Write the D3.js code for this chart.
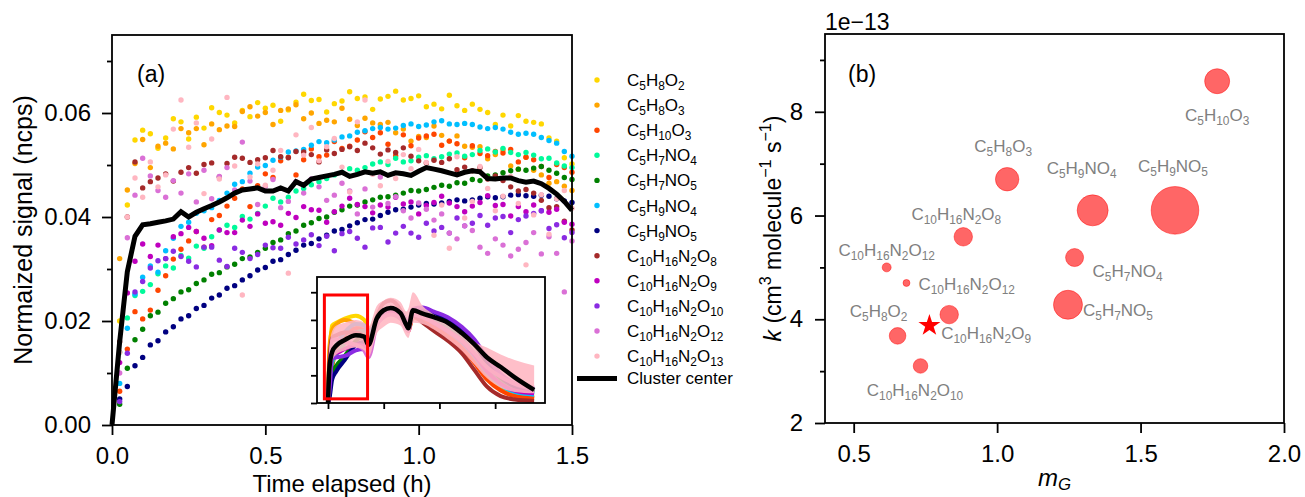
<!DOCTYPE html>
<html><head><meta charset="utf-8">
<script src="https://cdn.jsdelivr.net/npm/d3@7"></script>
<style>
body{margin:0;background:#fff}
svg text{font-family:"Liberation Sans",Arial,sans-serif}
</style>
</head><body>
<svg id="chart" width="1305" height="497"></svg>
<script>
// ---------------- DATA: panel (a) ----------------
// signal values below are in units of 1e-3 ncps
const SIGNAL_UNIT = 1e-3;
const timeHours = [0.025,0.05,0.075,0.1,0.125,0.15,0.175,0.2,0.225,0.25,0.275,0.3,0.325,0.35,0.375,0.4,0.425,0.45,0.475,0.5,0.525,0.55,0.575,0.6,0.625,0.65,0.675,0.7,0.725,0.75,0.775,0.8,0.825,0.85,0.875,0.9,0.925,0.95,0.975,1.0,1.025,1.05,1.075,1.1,1.125,1.15,1.175,1.2,1.225,1.25,1.275,1.3,1.325,1.35,1.375,1.4,1.425,1.45,1.475,1.5];
const seriesNames = ["C5H8O2","C5H8O3","C5H10O3","C5H7NO4","C5H7NO5","C5H9NO4","C5H9NO5","C10H16N2O8","C10H16N2O9","C10H16N2O10","C10H16N2O12","C10H16N2O13"];
const sC5H8O2 = [20.0,42.3,54.8,56.7,56.0,53.2,55.2,58.9,58.3,55.0,59.2,57.1,61.0,60.1,59.6,58.1,60.5,59.3,62.0,60.9,61.5,58.4,60.6,62.1,63.6,62.4,62.6,60.2,61.8,62.3,64.1,62.8,63.1,60.7,62.7,63.2,64.2,62.5,62.8,63.3,61.2,61.7,60.8,63.4,61.4,60.5,61.7,60.7,60.1,57.8,59.6,57.5,59.5,58.4,58.2,57.9,55.2,54.6,51.4,50.2];
const sC5H8O3 = [32.0,45.2,50.3,54.9,49.5,53.6,54.2,53.1,57.0,56.2,57.0,53.9,57.9,56.8,57.5,57.4,60.3,61.2,59.4,60.1,57.8,60.5,60.8,61.6,58.9,60.0,58.0,58.6,58.3,60.9,58.8,57.6,59.0,58.1,57.8,58.2,56.2,56.9,54.6,55.5,55.3,57.5,55.7,54.6,55.6,53.6,53.4,53.5,51.2,52.0,52.9,49.8,49.2,51.5,49.0,48.1,46.5,46.8,45.9,45.1];
const sC5H10O3 = [6.5,14.6,21.8,20.4,22.1,25.9,28.7,31.9,33.8,35.4,37.2,34.2,39.5,40.3,42.1,43.6,45.4,42.0,46.0,48.3,47.6,50.8,51.5,48.1,51.0,53.1,51.6,51.9,54.5,53.2,53.6,54.8,56.4,55.3,56.2,54.0,51.8,55.8,53.7,55.2,55.6,55.9,53.8,54.6,54.1,51.4,53.7,52.2,51.8,52.6,52.3,53.0,50.6,51.5,51.0,49.7,47.6,50.1,49.5,48.6];
const sC5H7NO4 = [14.0,20.6,24.9,25.7,27.0,29.1,30.6,30.2,32.6,32.1,34.4,34.0,36.2,37.5,38.4,38.0,40.1,39.6,40.7,42.1,43.6,42.9,43.8,45.0,45.5,46.2,46.8,47.4,48.1,48.6,49.3,49.0,49.5,50.2,50.6,50.1,51.3,50.6,50.8,51.5,51.8,51.2,51.6,52.1,52.3,51.7,52.0,52.8,53.1,52.5,53.2,52.4,52.0,52.4,51.9,51.2,51.3,50.4,49.8,49.5];
const sC5H7NO5 = [4.0,10.9,16.4,18.4,21.0,21.7,23.4,24.3,25.6,26.0,27.2,27.9,29.0,29.3,30.4,30.9,32.0,32.3,33.2,34.0,35.1,35.6,36.8,37.3,38.4,38.9,39.7,40.0,40.9,41.4,42.1,42.3,42.9,43.3,43.8,43.9,44.2,44.6,45.1,45.0,45.3,45.7,46.1,45.9,46.6,46.5,47.2,47.0,47.9,48.1,48.5,48.9,49.2,49.0,49.4,49.7,49.0,48.4,47.6,47.2];
const sC5H9NO4 = [8.0,18.6,25.2,28.4,30.6,29.4,33.5,35.9,38.2,39.0,40.7,41.2,41.8,43.2,44.6,46.3,46.8,48.4,49.6,49.9,50.9,51.5,52.5,52.7,53.0,53.8,54.5,54.3,54.8,55.4,55.6,56.3,56.6,57.0,57.2,56.9,57.1,57.6,57.9,57.4,57.7,58.3,58.5,57.9,57.8,58.0,57.8,57.3,57.0,57.2,56.9,56.3,55.9,56.1,55.9,55.3,54.7,54.2,52.6,51.7];
const sC5H9NO5 = [5.0,7.4,11.4,13.0,15.4,16.2,17.9,18.9,20.4,21.0,22.4,23.0,24.4,25.0,26.3,26.8,27.9,28.7,29.8,30.3,31.5,31.8,32.8,33.6,34.6,34.9,35.8,36.5,37.3,37.6,38.3,38.9,39.5,39.6,40.3,40.9,41.4,41.5,41.9,42.3,42.6,42.5,42.7,43.0,43.3,43.1,43.3,43.6,43.9,43.7,43.9,44.2,44.3,44.1,44.0,44.2,44.0,43.5,43.1,42.8];
const sC10H16N2O8 = [16.0,40.0,50.6,45.6,46.8,47.5,48.3,46.9,48.6,49.5,48.4,50.1,50.4,47.7,50.3,51.5,51.3,50.5,51.0,51.4,52.8,51.6,51.4,52.6,52.5,52.0,50.6,52.9,52.2,53.0,53.5,52.8,54.2,53.3,52.1,52.9,52.4,53.3,51.7,50.8,50.4,50.9,50.5,51.2,49.1,49.6,48.9,49.5,47.3,47.9,47.0,45.8,45.0,45.3,44.6,43.2,41.8,42.0,39.2,37.5];
const sC10H16N2O9 = [12.0,25.4,31.5,34.8,32.4,34.6,32.0,36.2,36.8,38.0,37.2,35.9,34.5,37.5,37.0,37.0,39.4,38.2,40.6,38.8,39.1,38.4,40.7,39.9,42.0,41.4,41.3,39.0,41.0,42.1,43.6,42.4,42.0,40.8,42.3,41.9,43.8,42.5,42.9,40.6,42.2,42.8,44.0,42.7,42.0,41.0,42.1,42.8,44.1,42.2,42.4,40.2,42.0,41.0,42.3,41.2,40.9,41.5,39.0,38.6];
const sC10H16N2O10 = [4.5,13.8,25.6,27.6,30.2,31.6,32.0,33.4,32.4,31.5,30.4,34.2,34.2,31.7,30.5,34.0,33.2,32.0,32.8,34.6,34.1,34.0,36.1,34.8,35.6,36.6,34.5,36.3,33.5,36.8,37.2,35.9,34.2,37.9,38.0,35.2,36.9,38.2,36.9,36.1,38.8,37.3,38.0,36.9,39.8,38.3,38.8,40.3,38.4,39.8,40.1,37.0,39.5,40.2,40.7,41.2,37.8,38.5,36.0,37.0];
const sC10H16N2O12 = [10.0,36.0,44.2,51.3,47.9,45.1,43.8,47.0,44.6,48.3,42.9,49.0,43.5,47.8,49.5,45.2,54.4,46.9,42.4,45.9,47.2,41.8,43.0,46.8,44.6,47.3,45.8,43.2,44.2,46.5,45.0,40.6,45.4,41.9,47.7,42.6,43.9,41.2,39.8,42.7,41.5,39.4,40.6,36.9,35.8,38.3,37.4,34.2,33.0,35.8,34.6,32.5,33.8,35.1,37.0,32.9,36.2,33.0,25.6,35.4];
const sC10H16N2O13 = [14.0,40.0,47.5,43.8,50.6,45.8,48.1,56.9,62.5,53.4,58.1,44.5,55.0,47.3,63.0,49.8,25.0,47.7,50.2,46.1,49.0,52.8,29.2,55.8,51.9,57.2,50.8,53.5,55.1,49.6,44.8,58.3,62.5,48.2,46.0,50.7,47.4,52.0,49.3,53.0,50.5,36.5,42.3,34.0,51.6,39.8,43.0,49.7,45.5,41.2,44.0,47.8,42.6,30.8,40.4,44.3,36.7,43.5,45.1,41.7];
const centerHours = [0].concat(timeHours);
const clusterCenter = [0,16,29.5,36.3,38.5,38.7,39,39.25,39.6,41.0,40,40.9,41.6,42.2,42.9,43.7,44.6,45.2,45.4,45.6,45,45.0,45.6,45.0,46.8,46.1,47.3,47.6,47.9,48.2,48.6,47.8,48.2,48.7,48.4,48.7,48.0,48.5,48.3,48.0,48.8,49.5,49.2,48.9,48.5,48.1,48.6,48.9,48.7,47.4,47.3,47.5,47.5,47.0,46.7,46.9,46.4,45.5,44.4,43.0,41.3];
const xTicksA = [0, 0.5, 1.0, 1.5];
const yTicksA = [0, 0.02, 0.04, 0.06];
const yMinorA = [0.01, 0.03, 0.05, 0.07];

// inset (whole experiment), same units
const insetHours = [0,0.05,0.15,0.3,0.6,1.0,1.3,1.45,1.75,2.0,2.25,2.6,2.82,2.88,3.05,3.4,3.8,4.3,4.8,5.25,5.7,6.2,6.7,7.4];
const inC5H8O2 = [0,30,56,58,61,63,60,52,60,64,65,62,54,53,62,59,55,49,41,31,20,11,6,4];
const inC5H8O3 = [0,40,53,57,60,57,52,46,60,65,66,62,55,53,63,60,56,50,41,30,18,10,6,4];
const inC5H10O3 = [0,8,26,38,49,54,52,48,58,64,65,61,54,52,62,59,55,48,40,29,17,9,5,3.5];
const inC5H7NO4 = [0,15,29,35,43,51,52,50,59,64,66,63,56,55,64,63,59,54,46,36,24,15,10,7];
const inC5H7NO5 = [0,6,22,27,34,45,48,47,58,64,67,65,58,57,66,66,63,59,52,42,29,18,12,8];
const inC5H9NO4 = [0,12,35,42,51,57,56,51,60,65,66,63,56,55,64,62,58,52,44,34,22,13,8,6];
const inC5H9NO5 = [0,3,17,23,31,42,44,42,58,64,67,66,59,58,67,67,64,60,53,43,30,19,12,9];
const inC10H16N2O8 = [0,30,47,49,51,51,47,38,62,72,74,67,56,55,63,58,52,45,36,24,12,5,2.5,1.5];
const inC10H16N2O9 = [0,15,35,36,39,42,41,39,58,64,66,63,56,55,64,62,58,52,45,35,23,14,9,7];
const inC10H16N2O10 = [0,8,32,33,34,38,39,37,58,65,68,66,59,58,68,69,66,62,55,46,33,21,14,10];
const inC10H16N2O12 = [0,20,45,46,44,42,38,33,56,62,64,61,53,52,64,62,58,52,45,36,26,19,14,11];
const inC10H16N2O13High = [0,40,52,56,58,60,58,55,70,74,76,73,66,68,80,70,64,59,52,44,40,35,31,27];
const inC10H16N2O13Low = [0,10,30,35,38,40,38,33,50,55,58,56,48,47,58,57,53,46,38,28,18,11,8,7];
const inCenter = [0,25,37,41.5,45.5,49,48,42,61,67,68.6,65,56,54,67,64.5,62,58,50.5,42.5,33,26,18.5,9.4];
const insetXTicks = [0, 2, 4, 6];
const insetYTicks = [0, 0.02, 0.04, 0.06, 0.08];
const zoomBoxHours = [-0.13, 1.42];
const zoomBoxSignal = [0.003, 0.078];

// ---------------- DATA: panel (b) ----------------
const bubbleNames = ["C5H10O3","C5H9NO5","C5H9NO4","C5H7NO4","C5H7NO5","C5H8O3","C10H16N2O8","C10H16N2O12","C10H16N2O12","C10H16N2O9","C5H8O2","C10H16N2O10"];
const bubbleMG = [1.767,1.62,1.333,1.27,1.247,1.035,0.882,0.615,0.684,0.833,0.653,0.733];
const bubbleK = [8.59,6.10,6.10,5.19,4.28,6.70,5.59,5.00,4.70,4.09,3.68,3.10]; // x 1e-13
const bubbleWeight = [156,566,240,81,210,137,85,20,12,85,69,53];
const starMG = 0.764, starK = 3.88;
const xTicksB = [0.5, 1.0, 1.5, 2.0];
const yTicksB = [2, 4, 6, 8];
const yMinorB = [3, 5, 7, 9];

// ---------------- STYLE ----------------
const seriesColors = ["#FFD700","#FFA500","#FF4500","#00FA9A","#008000","#00BFFF","#000080","#A52A2A","#BF00BF","#8A2BE2","#DA70D6","#FFB6C1"];
const labelPlace = [
  {a:"middle",dx:0,dy:40},{a:"middle",dx:-2,dy:-38},{a:"middle",dx:-11,dy:-36},
  {a:"start",dx:18,dy:19},{a:"start",dx:15,dy:11},{a:"middle",dx:-4,dy:-27},
  {a:"middle",dx:-7,dy:-17},{a:"middle",dx:0,dy:-11},{a:"start",dx:12,dy:7},
  {a:"start",dx:-8,dy:24},{a:"middle",dx:-19,dy:-19},{a:"middle",dx:-5.5,dy:30}
];
const MONO = "'DejaVu Sans', sans-serif";

const svg = d3.select("#chart");

function addFormula(t, str, shift) {
  const re = /([A-Z][a-z]?)(\d*)/g; let m; let down = false;
  while ((m = re.exec(str))) {
    t.append("tspan").attr("dy", down ? -shift : 0).text(m[1]);
    down = false;
    if (m[2]) { t.append("tspan").attr("dy", shift).attr("font-size", "0.7em").text(m[2]); down = true; }
  }
}
function styleAxis(g) {
  g.select(".domain").remove();
  g.selectAll(".tick line").attr("stroke", "#000").attr("stroke-width", 1.8);
  g.selectAll(".tick text").attr("font-size", 24).attr("fill", "#000")
    .attr("font-family", "'Liberation Sans', Arial, sans-serif");
}

// ---------------- PANEL (a) ----------------
const A = {l:112, r:572, t:35, b:425};
const xA = d3.scaleLinear().domain([0, 1.5]).range([A.l, A.r]);
const yA = d3.scaleLinear().domain([0, 0.075]).range([A.b, A.t]);

const seriesA = [sC5H8O2,sC5H8O3,sC5H10O3,sC5H7NO4,sC5H7NO5,sC5H9NO4,sC5H9NO5,sC10H16N2O8,sC10H16N2O9,sC10H16N2O10,sC10H16N2O12,sC10H16N2O13];
const gA = svg.append("g");
seriesA.forEach((vals, si) => {
  gA.append("g").selectAll("circle").data(vals).join("circle")
    .attr("cx", (d, i) => xA(timeHours[i]))
    .attr("cy", d => yA(d * SIGNAL_UNIT))
    .attr("r", 2.7).attr("fill", seriesColors[si]);
});
gA.append("path").datum(clusterCenter)
  .attr("fill", "none").attr("stroke", "#000").attr("stroke-width", 5).attr("stroke-linejoin", "miter")
  .attr("d", d3.line().x((d, i) => xA(centerHours[i])).y(d => yA(d * SIGNAL_UNIT)));

gA.append("g").attr("transform", `translate(0,${A.b})`)
  .call(d3.axisBottom(xA).tickValues(xTicksA).tickFormat(d3.format(".1f")).tickSize(10).tickPadding(12)).call(styleAxis);
gA.append("g").attr("transform", `translate(${A.l},0)`)
  .call(d3.axisLeft(yA).tickValues(yTicksA).tickFormat(d3.format(".2f")).tickSize(10).tickPadding(11)).call(styleAxis);
gA.append("g").attr("transform", `translate(${A.l},0)`)
  .call(d3.axisLeft(yA).tickValues(yMinorA).tickFormat("").tickSize(5)).call(styleAxis);
gA.append("rect").attr("x", A.l).attr("y", A.t).attr("width", A.r - A.l).attr("height", A.b - A.t)
  .attr("fill", "none").attr("stroke", "#000").attr("stroke-width", 1.8);

gA.append("text").attr("x", 137).attr("y", 82).attr("font-size", 23).text("(a)");
gA.append("text").attr("x", (A.l + A.r) / 2).attr("y", 492).attr("text-anchor", "middle").attr("font-size", 24).text("Time elapsed (h)");
gA.append("text").attr("transform", `translate(32,${(A.t + A.b) / 2}) rotate(-90)`).attr("text-anchor", "middle")
  .attr("font-size", 25).text("Normaized signal (ncps)");

// ---------------- INSET ----------------
const I = {l:317, r:545, t:277, b:403};
const xI = d3.scaleLinear().domain([-0.395, 7.79]).range([I.l, I.r]);
const yI = d3.scaleLinear().domain([0, 0.091]).range([I.b, I.t]);
const gI = svg.append("g");
gI.append("rect").attr("x", I.l).attr("y", I.t).attr("width", I.r - I.l).attr("height", I.b - I.t).attr("fill", "#fff");
const insetSeries = [inC5H8O2,inC5H8O3,inC5H10O3,inC5H7NO4,inC5H7NO5,inC5H9NO4,inC5H9NO5,inC10H16N2O8,inC10H16N2O9,inC10H16N2O10,inC10H16N2O12];
const lineI = d3.line().curve(d3.curveMonotoneX).x((d, i) => xI(insetHours[i])).y(d => yI(d * SIGNAL_UNIT));
insetSeries.forEach((vals, si) => {
  gI.append("path").datum(vals).attr("fill", "none").attr("stroke", seriesColors[si]).attr("stroke-width", 4).attr("d", lineI);
});
gI.append("path").datum(inC10H16N2O13High.map((h, i) => [h, inC10H16N2O13Low[i]]))
  .attr("fill", seriesColors[11]).attr("fill-opacity", 0.88)
  .attr("d", d3.area().curve(d3.curveMonotoneX).x((d, i) => xI(insetHours[i]))
    .y0(d => yI(d[1] * SIGNAL_UNIT)).y1(d => yI(d[0] * SIGNAL_UNIT)));
gI.append("path").datum(inCenter).attr("fill", "none").attr("stroke", "#000").attr("stroke-width", 4.5).attr("d", lineI);
gI.append("rect").attr("x", xI(zoomBoxHours[0])).attr("y", yI(zoomBoxSignal[1]))
  .attr("width", xI(zoomBoxHours[1]) - xI(zoomBoxHours[0])).attr("height", yI(zoomBoxSignal[0]) - yI(zoomBoxSignal[1]))
  .attr("fill", "none").attr("stroke", "#ff0000").attr("stroke-width", 3);
gI.append("g").attr("transform", `translate(0,${I.b})`).call(d3.axisBottom(xI).tickValues(insetXTicks).tickFormat("").tickSize(6)).call(styleAxis);
gI.append("g").attr("transform", `translate(${I.l},0)`).call(d3.axisLeft(yI).tickValues(insetYTicks).tickFormat("").tickSize(6)).call(styleAxis);
gI.append("rect").attr("x", I.l).attr("y", I.t).attr("width", I.r - I.l).attr("height", I.b - I.t)
  .attr("fill", "none").attr("stroke", "#000").attr("stroke-width", 1.8);

// ---------------- LEGEND ----------------
const gL = svg.append("g");
seriesNames.forEach((name, i) => {
  const y = 80 + i * 25.1;
  gL.append("circle").attr("cx", 597).attr("cy", y).attr("r", 2.7).attr("fill", seriesColors[i]);
  const t = gL.append("text").attr("x", 627).attr("y", y + 6).attr("font-size", 17).attr("font-family", MONO);
  addFormula(t, name, 4);
});
const yCl = 80 + 11 * 25.1 + 22.3;
gL.append("line").attr("x1", 577).attr("x2", 617).attr("y1", yCl).attr("y2", yCl).attr("stroke", "#000").attr("stroke-width", 5);
gL.append("text").attr("x", 627).attr("y", yCl + 6).attr("font-size", 17).text("Cluster center");

// ---------------- PANEL (b) ----------------
const B = {l:825, r:1284, t:34, b:423};
const xB = d3.scaleLinear().domain([0.4, 2.0]).range([B.l, B.r]);
const yB = d3.scaleLinear().domain([2, 9.5]).range([B.b, B.t]);
const rB = d3.scaleSqrt().domain([0, d3.max(bubbleWeight)]).range([0, 23.8]);
const gB = svg.append("g");
gB.append("g").selectAll("circle").data(bubbleWeight).join("circle")
  .attr("cx", (d, i) => xB(bubbleMG[i])).attr("cy", (d, i) => yB(bubbleK[i])).attr("r", d => rB(d))
  .attr("fill", "red").attr("fill-opacity", 0.6).attr("stroke", "red").attr("stroke-opacity", 0.45).attr("stroke-width", 1);
gB.append("path").attr("d", d3.symbol().type(d3.symbolStar).size(151)())
  .attr("transform", `translate(${xB(starMG)},${yB(starK)})`).attr("fill", "red");
bubbleNames.forEach((name, i) => {
  const p = labelPlace[i];
  const t = gB.append("text").attr("x", xB(bubbleMG[i]) + p.dx).attr("y", yB(bubbleK[i]) + p.dy)
    .attr("text-anchor", p.a).attr("font-size", 17).attr("font-family", MONO).attr("fill", "#808080");
  addFormula(t, name, 4);
});
gB.append("g").attr("transform", `translate(0,${B.b})`)
  .call(d3.axisBottom(xB).tickValues(xTicksB).tickFormat(d3.format(".1f")).tickSize(10).tickPadding(12)).call(styleAxis);
gB.append("g").attr("transform", `translate(${B.l},0)`)
  .call(d3.axisLeft(yB).tickValues(yTicksB).tickFormat(d3.format("d")).tickSize(10).tickPadding(12)).call(styleAxis);
gB.append("g").attr("transform", `translate(${B.l},0)`)
  .call(d3.axisLeft(yB).tickValues(yMinorB).tickFormat("").tickSize(5)).call(styleAxis);
gB.append("rect").attr("x", B.l).attr("y", B.t).attr("width", B.r - B.l).attr("height", B.b - B.t)
  .attr("fill", "none").attr("stroke", "#000").attr("stroke-width", 1.8);
gB.append("text").attr("x", 848).attr("y", 82).attr("font-size", 23).text("(b)");
gB.append("text").attr("x", 825).attr("y", 30).attr("font-size", 23).text("1e\u221213");
// y label
const yl = gB.append("text").attr("transform", `translate(781,${(B.t + B.b) / 2}) rotate(-90)`)
  .attr("text-anchor", "middle").attr("font-size", 23).attr("font-family", MONO);
yl.append("tspan").attr("font-style", "italic").text("k");
yl.append("tspan").text(" (cm");
yl.append("tspan").attr("font-size", "0.7em").attr("dy", -10).text("3");
yl.append("tspan").attr("dy", 10).text(" molecule");
yl.append("tspan").attr("font-size", "0.7em").attr("dy", -10).text("\u22121");
yl.append("tspan").attr("dy", 10).text(" s");
yl.append("tspan").attr("font-size", "0.7em").attr("dy", -10).text("\u22121");
yl.append("tspan").attr("dy", 10).text(")");
// x label
const xl = gB.append("text").attr("x", (B.l + B.r) / 2).attr("y", 486).attr("text-anchor", "middle")
  .attr("font-size", 24).attr("font-family", MONO);
xl.append("tspan").attr("font-style", "italic").text("m");
xl.append("tspan").attr("font-style", "italic").attr("font-size", "0.7em").attr("dy", 4).text("G");
</script>
</body></html>
